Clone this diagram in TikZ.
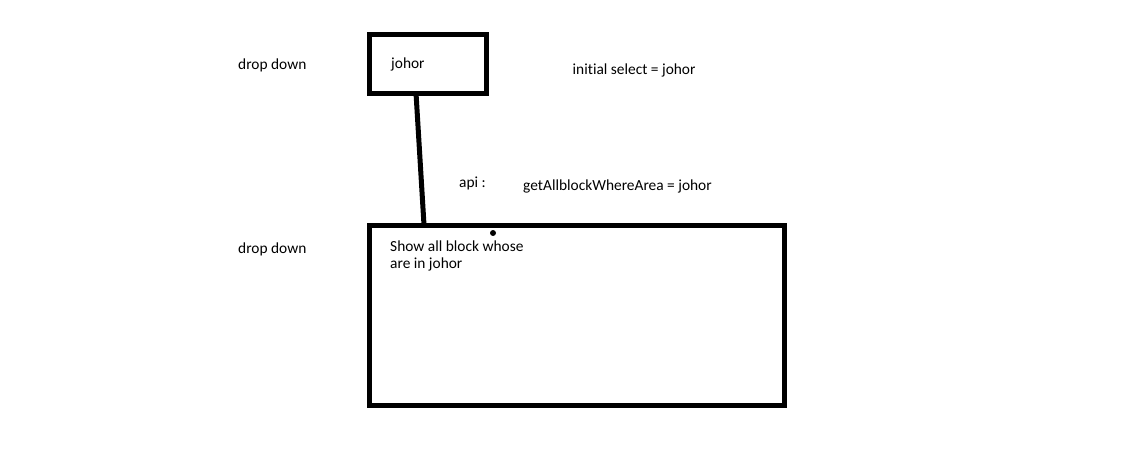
\documentclass[tikz,border=0pt]{standalone}
\usepackage{fontspec}
\setmainfont{Carlito}[Ligatures={NoCommon,NoRequired,NoContextual}]
\begin{document}
\begin{tikzpicture}[x=1pt,y=-1pt,
  lbl/.style={anchor=base west,inner sep=0pt,font=\fontsize{15.4}{18}\selectfont,text=black},
  boxs/.style={draw=black,line width=5pt,inner sep=0pt,outer sep=0pt},
  conn/.style={draw=black,line width=5pt}]
\useasboundingbox[fill=white] (0,0) rectangle (1127,460);
\node[boxs,minimum width=117pt,minimum height=58pt,anchor=north west] (top) at (369.5,35) {};
\node[boxs,minimum width=414.5pt,minimum height=180.5pt,anchor=north west] (bot) at (369.5,225) {};
\coordinate (ta) at ([xshift=46.5pt]top.south west);
\coordinate (ba) at ([xshift=54.5pt]bot.north west);
\draw[conn] (ta) -- (ba);
\fill (493,233) circle (3pt) coordinate (dot);
\node[lbl] (dd1) at (238,69.5) {drop down};
\node[lbl] (dd2) at (238,253.5) {drop down};
\node[lbl] (jh) at (391,69) {johor};
\node[lbl] (init) at (572.5,74.5) {initial select = johor};
\node[lbl] (api) at (459,187.5) {api :};
\node[lbl] (get) at (523,190) {getAllblockWhereArea = johor};
\node[lbl] (s1) at (390,251) {Show all block whose};
\node[lbl] (s2) at (390,268.5) {are in johor};
\end{tikzpicture}
\end{document}
